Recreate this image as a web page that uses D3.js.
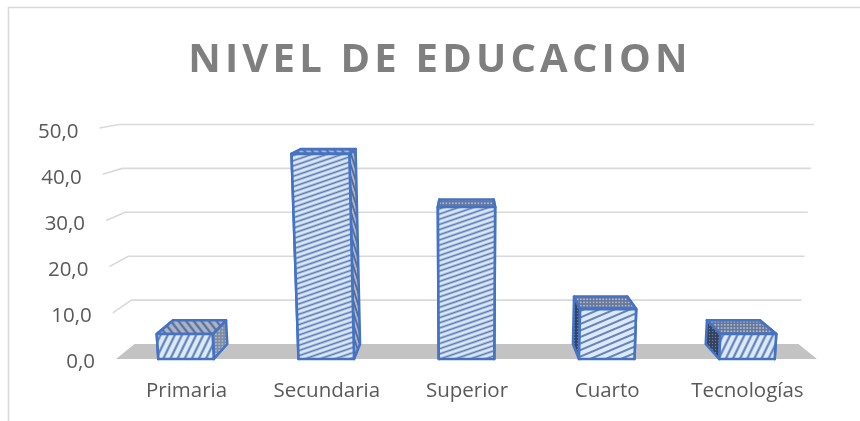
<!DOCTYPE html>
<html><head><meta charset="utf-8">
<script src="https://cdn.jsdelivr.net/npm/d3@7"></script>
<style>html,body{margin:0;padding:0;background:#fff}svg{display:block;filter:blur(0.4px)}text{font-family:"Open Sans",sans-serif}</style>
</head><body><svg id="c" width="860" height="421"></svg>
<script>
const chartTitle = "NIVEL DE EDUCACION";
const categories = ["Primaria","Secundaria","Superior","Cuarto","Tecnologías"];
const values = [5.4,44.4,32.9,10.8,5.4];
const tickValues = [0,10,20,30,40,50];

const svg = d3.select("#c");
const cx = 466.5, backScale = 0.947, riseScale = 0.00094;
const xFront = d3.scaleBand().domain(categories).range([116,817]).paddingInner(0.604).paddingOuter(0.302);
const yFront = d3.scaleLinear().domain([0,50]).range([359,128]);
const yBack  = d3.scaleLinear().domain([0,50]).range([344,124.5]);
const yLabel = d3.scaleLinear().domain([0,50]).range([361,130.5]);
const pt = (x,v,d)=>[
  cx+(x-cx)*(d?backScale:1)*(1+v*riseScale),
  d?yBack(v):yFront(v)
];
const poly = a=>a.map(p=>p.map(n=>n.toFixed(2)).join(",")).join(" ");

// patterns
const defs = svg.append("defs");
function stripes(id,angle,period,bg,fg,w){
  const p=defs.append("pattern").attr("id",id).attr("patternUnits","userSpaceOnUse")
    .attr("width",period).attr("height",period).attr("patternTransform",`rotate(${angle})`);
  p.append("rect").attr("width",period).attr("height",period).attr("fill",bg);
  p.append("rect").attr("y",(period-w)/2).attr("width",period).attr("height",w).attr("fill",fg);
}
function dots(id,size,bg,fg,r){
  const p=defs.append("pattern").attr("id",id).attr("patternUnits","userSpaceOnUse")
    .attr("width",size).attr("height",size);
  p.append("rect").attr("width",size).attr("height",size).attr("fill",bg);
  p.append("circle").attr("cx",size/2).attr("cy",size/2).attr("r",r).attr("fill",fg);
}
stripes("fTall",-19,4.9,"#dbe9fa","#5878b0",1.7);
stripes("fMid",-23,6,"#dbe9fa","#5878b0",1.8);
stripes("fShort",-64,6.4,"#dbe9fa","#5878b0",2);
stripes("sTall",72,3.6,"#a9b6cc","#56678a",1.7);
stripes("tStripe",52,6,"#a9b6cc","#5f7196",2.4);
dots("tDots",3.2,"#66769a","#bcc6d6",0.9);
dots("sDark",3,"#34415f","#717e98",0.7);
dots("sMid",3.2,"#7f8ca6","#c0c8d6",0.8);

// frame
svg.append("path").attr("d","M860,7.5H8.5V421").attr("fill","none").attr("stroke","#d9d9d9").attr("stroke-width",1.6);

// title
svg.append("text").attr("x",440).attr("y",72).attr("text-anchor","middle")
  .attr("font-size",40).attr("font-weight",700).attr("letter-spacing",4.2).attr("fill","#7f7f7f").text(chartTitle);

// floor
const L=116,R=817;
svg.append("polygon").attr("points",poly([pt(L,0,0),pt(L,0,1),pt(R,0,1),pt(R,0,0)])).attr("fill","#c3c3c3");

// gridlines: back wall + left wall
const gridTicks = tickValues.filter(t=>t>0);
svg.append("g").selectAll("polyline").data(gridTicks).join("polyline")
  .attr("points",t=>poly([pt(L,t,0),pt(L,t,1),pt(R,t,1)]))
  .attr("fill","none").attr("stroke","#d9d9d9").attr("stroke-width",1.6);

// axis labels
svg.append("g").selectAll("text").data(tickValues).join("text")
  .attr("x",t=>pt(L,t,0)[0]-21).attr("y",t=>yLabel(t)+7.3)
  .attr("text-anchor","end").attr("font-size",20.5).attr("fill","#595959")
  .text(t=>d3.format(".1f")(t).replace(".",","));
svg.append("g").selectAll("text").data(categories).join("text")
  .attr("x",c=>xFront(c)+xFront.bandwidth()/2+0.5).attr("y",397)
  .attr("text-anchor","middle").attr("font-size",20.5).attr("fill","#595959").text(c=>c);

// bars
const edge="#4472c4";
const bars=svg.append("g").selectAll("g").data(categories.map((c,i)=>({c,v:values[i],i}))).join("g")
  .attr("stroke",edge).attr("stroke-width",2.6).attr("stroke-linejoin","round");
const frontFill=d=>{const h=yFront(0)-yFront(d.v);return h<35?"fShort":h<80?"fMid":"fTall";};
const topFill=d=>d.i<2?"tStripe":"tDots";
const sideFill=d=>d.i===0?"sMid":d.i===1?"sTall":"sDark";
bars.each(function(d){
  const g=d3.select(this), a=xFront(d.c), b=a+xFront.bandwidth(), v=d.v;
  g.append("polygon").attr("fill",`url(#${sideFill(d)})`).attr("points",poly([pt(a,0,0),pt(a,v,0),pt(a,v,1),pt(a,0,1)]));
  g.append("polygon").attr("fill",`url(#${sideFill(d)})`).attr("points",poly([pt(b,0,0),pt(b,v,0),pt(b,v,1),pt(b,0,1)]));
  g.append("polygon").attr("fill",`url(#${topFill(d)})`).attr("points",poly([pt(a,v,0),pt(a,v,1),pt(b,v,1),pt(b,v,0)]));
  g.append("polygon").attr("fill",`url(#${frontFill(d)})`).attr("points",poly([pt(a,0,0),pt(a,v,0),pt(b,v,0),pt(b,0,0)]));
});
</script></body></html>
